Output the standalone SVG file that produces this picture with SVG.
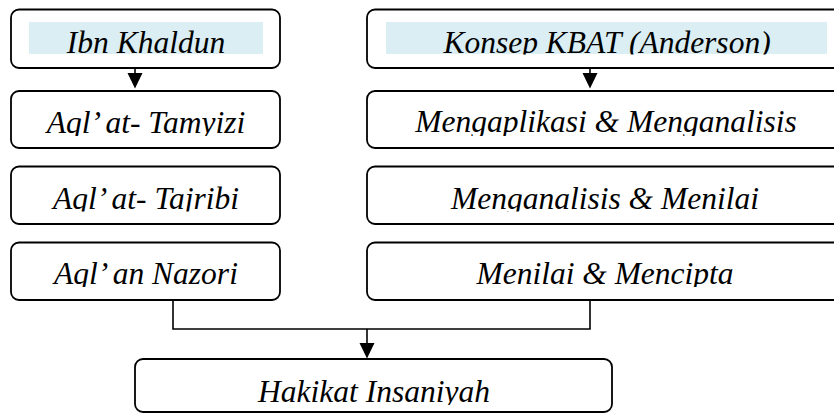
<svg xmlns="http://www.w3.org/2000/svg" width="834" height="414" viewBox="0 0 834 414">
<style>
.box{fill:#fff;stroke:#000;stroke-width:1.8}
.hl{fill:#DAEEF3}
.t{font-family:"Liberation Serif","Times New Roman",serif;font-style:italic;font-size:31.5px;fill:#000;text-anchor:middle}
.ln{fill:none;stroke:#000;stroke-width:1.6}
.ah{fill:#000}
</style>
<defs>
<clipPath id="c1"><rect x="0" y="0" width="834" height="54.5"/></clipPath>
<clipPath id="c2"><rect x="0" y="80" width="834" height="56"/></clipPath>
<clipPath id="c3"><rect x="0" y="160" width="834" height="51.5"/></clipPath>
<clipPath id="c4"><rect x="0" y="235" width="834" height="52"/></clipPath>
<clipPath id="c5"><rect x="0" y="360" width="834" height="45"/></clipPath>
</defs>
<g id="n-ibn-khaldun">
<rect class="box" x="11" y="9.5" width="269" height="58.5" rx="8"/>
<rect class="hl" x="29" y="22" width="234" height="32"/>
<text class="t" x="146" y="53" clip-path="url(#c1)">Ibn Khaldun</text>
</g>
<g id="n-tamyizi">
<rect class="box" x="11" y="91" width="269" height="57" rx="8"/>
<text class="t" x="146" y="133" clip-path="url(#c2)">Aql’ at- Tamyizi</text>
</g>
<g id="n-tajribi">
<rect class="box" x="11" y="166.5" width="269" height="57.5" rx="8"/>
<text class="t" x="146" y="208.5" clip-path="url(#c3)">Aql’ at- Tajribi</text>
</g>
<g id="n-nazori">
<rect class="box" x="11" y="242.5" width="269" height="57.5" rx="8"/>
<text class="t" x="146" y="284" clip-path="url(#c4)">Aql’ an Nazori</text>
</g>
<g id="n-kbat">
<rect class="box" x="367" y="9.5" width="480" height="58.5" rx="8"/>
<rect class="hl" x="386" y="22" width="441" height="32"/>
<text class="t" x="607" y="53" clip-path="url(#c1)">Konsep KBAT (Anderson)</text>
</g>
<g id="n-aplikasi">
<rect class="box" x="367" y="91" width="480" height="57" rx="8"/>
<text class="t" x="606" y="132" clip-path="url(#c2)">Mengaplikasi &amp; Menganalisis</text>
</g>
<g id="n-analisis">
<rect class="box" x="367" y="166.5" width="480" height="57.5" rx="8"/>
<text class="t" x="605" y="209" clip-path="url(#c3)">Menganalisis &amp; Menilai</text>
</g>
<g id="n-menilai">
<rect class="box" x="367" y="242.5" width="480" height="57.5" rx="8"/>
<text class="t" x="605" y="284" clip-path="url(#c4)">Menilai &amp; Mencipta</text>
</g>
<g id="n-insaniyah">
<rect class="box" x="135" y="359" width="477" height="53" rx="8"/>
<text class="t" x="374" y="401.5" clip-path="url(#c5)">Hakikat Insaniyah</text>
</g>
<g id="connectors">
<line class="ln" x1="135" y1="68" x2="135" y2="74"/>
<polygon class="ah" points="127.5,73 142.5,73 135,88.5"/>
<line class="ln" x1="590" y1="68" x2="590" y2="74"/>
<polygon class="ah" points="582.5,73 597.5,73 590,88.5"/>
<polyline class="ln" points="173,300 173,329 590,329 590,300"/>
<line class="ln" x1="367" y1="329" x2="367" y2="344"/>
<polygon class="ah" points="359.5,343 374.5,343 367,358.5"/>
</g>
</svg>
